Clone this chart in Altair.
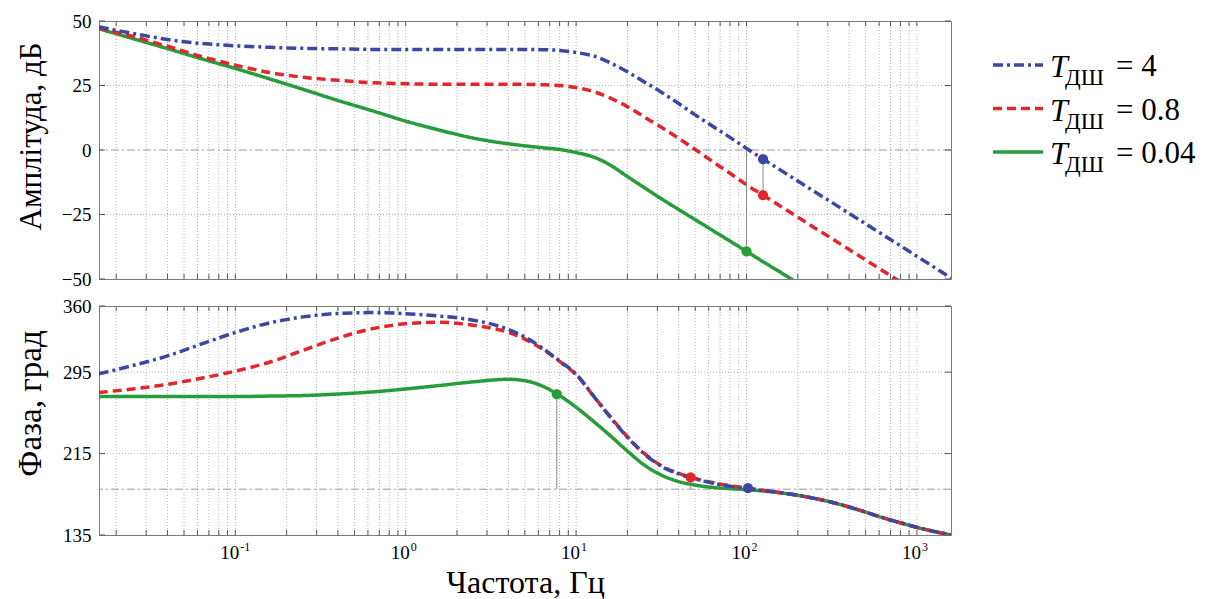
import altair as alt
import pandas as pd

# ---------------- data ----------------
SERIES = ["T0.04", "T0.8", "T4"]           # drawing order (blue on top)
LEGEND_ORDER = ["T4", "T0.8", "T0.04"]
LEGEND_VALUES = ["= 4", "= 0.8", "= 0.04"]
LEGEND_ROW = [0, 1, 2]
COLORS = {"T4": "#3a47a3", "T0.8": "#e2262b", "T0.04": "#279c3b"}
DASHES = {"T4": [10, 4, 3, 4], "T0.8": [9, 5], "T0.04": [1, 0]}

freq = [0.0158, 0.025, 0.04, 0.063, 0.1, 0.16, 0.25, 0.4, 0.63, 1.0, 1.6, 2.5, 4.0, 5.2,
        6.3, 8.0, 10, 13, 16, 20, 25, 32, 40, 50, 63, 80, 100, 125, 160, 200, 250, 320,
        400, 500, 630, 800, 1000, 1260, 1585]

amp_t4 = [47.7, 45.2, 42.8, 41.3, 40.4, 39.8, 39.4, 39.2, 39.0, 39.0, 39.0, 39.0, 39.0, 39.0,
          38.9, 38.6, 37.8, 36.2, 33.7, 30.3, 26.5, 22.2, 18.0, 13.6, 9.3, 4.9, 0.6, -3.5,
          -8.0, -12.0, -16.1, -20.5, -24.6, -28.6, -32.8, -37.1, -41.2, -45.4, -49.6]
amp_t08 = [47.2, 44.0, 40.2, 36.3, 32.9, 30.0, 28.2, 27.0, 26.1, 25.7, 25.5, 25.5, 25.5, 25.4,
           25.3, 25.0, 24.2, 22.4, 20.0, 16.8, 12.9, 8.6, 4.5, 0.2, -4.4, -9.0, -13.5, -17.5,
           -22.0, -26.0, -30.1, -34.5, -38.6, -42.6, -46.8, -51.1, None, None, None]
amp_t004 = [47.0, 43.2, 39.3, 35.4, 31.6, 27.5, 23.5, 19.2, 15.3, 11.2, 7.6, 4.6, 2.4, 1.5,
            0.9, 0.2, -1.0, -3.0, -6.0, -10.3, -14.5, -19.1, -23.1, -27.0, -31.1, -35.3,
            -39.3, -43.3, -47.6, -51.6, None, None, None, None, None, None, None, None, None]

phase_t4 = [293.3, 301.5, 311, 322.5, 334, 343.5, 349.3, 352.7, 353.5, 352.5, 350, 346, 337,
            328, 319, 306, 293, 269, 250, 231, 215, 202, 195, 190, 186, 183, 180.8, 178.8,
            176.5, 174, 171, 167, 162.5, 157.5, 152, 147, 142.5, 138.5, 135]
phase_t08 = [275, 278.5, 283, 289, 296, 305, 316.5, 328.5, 337.5, 342.5, 344, 341, 334, 326,
             318, 305.5, 292.5, 269, 250.5, 231.5, 215.5, 202.5, 195.5, 190.5, 186.5, 183.3,
             181, 179, 176.6, 174, 171, 167, 162.5, 157.5, 152, 147, 142.5, 138.5, 135]
phase_t004 = [271, 271, 271, 271, 271, 271.5, 272, 273.5, 275.5, 278.5, 282, 285.5, 288, 286,
              281.5, 272, 260.5, 245, 232, 217.5, 204, 193.5, 187.5, 184, 181.8, 180.5, 179.5,
              178.2, 176.3, 174, 171, 167, 162.5, 157.5, 152, 147, 142.5, 138.5, 135]

amp_marker_series = ["T4", "T0.8", "T0.04"]
amp_marker_freq = [125, 125, 100]
amp_marker_val = [-3.5, -17.5, -39.3]
phase_marker_series = ["T4", "T0.8", "T0.04"]
phase_marker_freq = [102, 47, 7.7]
phase_marker_val = [181, 191.5, 273.5]

x_major = [0.1, 1, 10, 100, 1000]
x_base = ["10", "10", "10", "10", "10"]
x_exponents = ["-1", "0", "1", "2", "3"]
x_minor = [m * 10 ** e for e in range(-2, 4) for m in range(2, 10)
           if 10 ** -1.8 <= m * 10 ** e <= 10 ** 3.2]
amp_ticks = [-50, -25, 0, 25, 50]
amp_grid = [-25, 25]
amp_ref = [0]
phase_ticks = [135, 215, 295, 360]
phase_grid = [215, 295]
phase_ref = [180]

# ---------------- helpers ----------------
FONT = "Liberation Serif"
W = 852
H_TOP = 258
H_BOT = 229
LW = 3.5

xscale = alt.Scale(type="log", domain=[10 ** -1.8, 10 ** 3.2], nice=False)
color_enc = alt.Color("s:N", scale=alt.Scale(domain=LEGEND_ORDER,
                      range=[COLORS[s] for s in LEGEND_ORDER]), legend=None)
dash_enc = alt.StrokeDash("s:N", scale=alt.Scale(domain=LEGEND_ORDER,
                          range=[DASHES[s] for s in LEGEND_ORDER]), legend=None)


def long_df(value_lists):
    rows = []
    for s, vals in zip(SERIES, value_lists):
        for f, v in zip(freq, vals):
            if v is not None:
                rows.append({"f": f, "v": v, "s": s})
    return pd.DataFrame(rows)


def panel(df, ydomain, yticks, ygrid, yref, ytitle, tsize, ty, H, markers, margins, bottom):
    yscale = alt.Scale(domain=ydomain, nice=False, zero=False)
    yaxis = alt.Axis(values=yticks, title=ytitle, grid=False, ticks=False, domain=False,
                     labelFont=FONT, labelFontSize=19, labelColor="black", labelPadding=8,
                     titleFont=FONT, titleFontSize=tsize, titleFontWeight="normal",
                     titleColor="black", titlePadding=16, titleY=ty,
                     minExtent=36, maxExtent=36)
    if bottom:
        xaxis = alt.Axis(values=x_major, labels=False, ticks=False, domain=False, grid=False,
                         title="Частота, Гц", titleFont=FONT, titleFontSize=32,
                         titleFontWeight="normal", titleColor="black", titlePadding=32)
    else:
        xaxis = None

    def X(field="f:Q"):
        return alt.X(field, scale=xscale, axis=xaxis)

    def Y(field="v:Q"):
        return alt.Y(field, scale=yscale, axis=yaxis)

    xt = pd.DataFrame({"f": x_major + x_minor})
    vgrid = alt.Chart(xt).mark_rule(
        color="#b4b4b4", strokeWidth=1, strokeDash=[1, 2]).encode(x=X())
    hgrid = alt.Chart(pd.DataFrame({"v": ygrid})).mark_rule(
        color="#b4b4b4", strokeWidth=1, strokeDash=[1, 2]).encode(y=Y())
    href = alt.Chart(pd.DataFrame({"v": yref})).mark_rule(
        color="#999999", strokeWidth=1, strokeDash=[8, 3, 2, 3]).encode(y=Y())

    tick_top = alt.Chart(xt).mark_rule(color="#555", strokeWidth=1).encode(
        x=X(), y=alt.value(0), y2=alt.value(5))
    tick_bot = alt.Chart(xt).mark_rule(color="#555", strokeWidth=1).encode(
        x=X(), y=alt.value(H - 5), y2=alt.value(H))
    yt = pd.DataFrame({"v": yticks})
    tick_l = alt.Chart(yt).mark_rule(color="#555", strokeWidth=1).encode(
        y=Y(), x=alt.value(0), x2=alt.value(6))
    tick_r = alt.Chart(yt).mark_rule(color="#555", strokeWidth=1).encode(
        y=Y(), x=alt.value(W - 6), x2=alt.value(W))

    lines = alt.Chart(df).mark_line(clip=True, strokeWidth=LW, interpolate="monotone").encode(
        x=X(), y=Y(), color=color_enc, strokeDash=dash_enc, order=alt.Order("f:Q"))
    mline = alt.Chart(margins).mark_rule(color="#8a8a8a", strokeWidth=1).encode(
        x=X(), y=Y("v0:Q"), y2="v1:Q")
    mpts = alt.Chart(markers).mark_circle(size=105, opacity=1).encode(
        x=X(), y=Y(), color=color_enc)

    layers = [vgrid, hgrid, href, tick_top, tick_bot, tick_l, tick_r, lines, mline, mpts]
    if bottom:
        lab_df = pd.DataFrame({"f": x_major, "b": x_base, "e": x_exponents})
        base_lab = alt.Chart(lab_df).mark_text(
            align="right", baseline="middle", fontSize=19, font=FONT, color="black", dx=4
        ).encode(x=X(), y=alt.value(H + 18), text="b:N")
        exps = alt.Chart(lab_df).mark_text(
            align="left", baseline="middle", fontSize=12, font=FONT, color="black", dx=5
        ).encode(x=X(), y=alt.value(H + 12), text="e:N")
        layers += [base_lab, exps]
    return alt.layer(*layers).properties(width=W, height=H)


amp_df = long_df([amp_t004, amp_t08, amp_t4])
phase_df = long_df([phase_t004, phase_t08, phase_t4])

amp_markers = pd.DataFrame({"f": amp_marker_freq, "v": amp_marker_val, "s": amp_marker_series})
amp_margins = pd.DataFrame({"f": amp_marker_freq[1:], "v0": [amp_marker_val[0], 0],
                            "v1": amp_marker_val[1:]})
phase_markers = pd.DataFrame({"f": phase_marker_freq, "v": phase_marker_val,
                              "s": phase_marker_series})
phase_margins = pd.DataFrame({"f": phase_marker_freq[1:], "v0": [180, 180],
                              "v1": phase_marker_val[1:]})

top = panel(amp_df, [-50, 50], amp_ticks, amp_grid, amp_ref, "Амплітуда, дБ", 31, 115,
            H_TOP, amp_markers, amp_margins, False)
bot = panel(phase_df, [135, 360], phase_ticks, phase_grid, phase_ref, "Фаза, град", 33, 97,
            H_BOT, phase_markers, phase_margins, True)

# ---------------- legend ----------------
leg_df = pd.DataFrame({"s": LEGEND_ORDER, "val": LEGEND_VALUES, "row": LEGEND_ROW})
ly = alt.Y("row:Q", scale=alt.Scale(domain=[0, 2], range=[44, 131]), axis=None)
lbase = alt.Chart(leg_df)
sample = lbase.mark_rule(strokeWidth=LW).encode(
    x=alt.value(10), x2=alt.value(60), y=ly, color=color_enc, strokeDash=dash_enc)
t_main = lbase.mark_text(text="T", font=FONT, fontStyle="italic", fontSize=32, align="left",
                         baseline="middle", dy=2, color="black").encode(x=alt.value(67), y=ly)
t_sub = lbase.mark_text(text="ДШ", font=FONT, fontSize=23, align="left",
                        baseline="middle", dy=13, color="black").encode(x=alt.value(82), y=ly)
t_val = lbase.mark_text(font=FONT, fontSize=31, align="left", baseline="middle", dy=2,
                        color="black").encode(x=alt.value(133), y=ly, text="val:N")
legend = alt.layer(sample, t_main, t_sub, t_val).properties(
    width=200, height=H_TOP, view=alt.ViewBackground(stroke="transparent"))

chart = alt.hconcat(
    alt.vconcat(top, bot, spacing=6),
    legend, spacing=30,
).properties(
    padding={"left": 5, "top": 3, "right": 0, "bottom": 0}
).configure_view(stroke="#7a7a7a", strokeWidth=1)

chart.save("out.html", embed_options={"renderer": "svg", "actions": False})
